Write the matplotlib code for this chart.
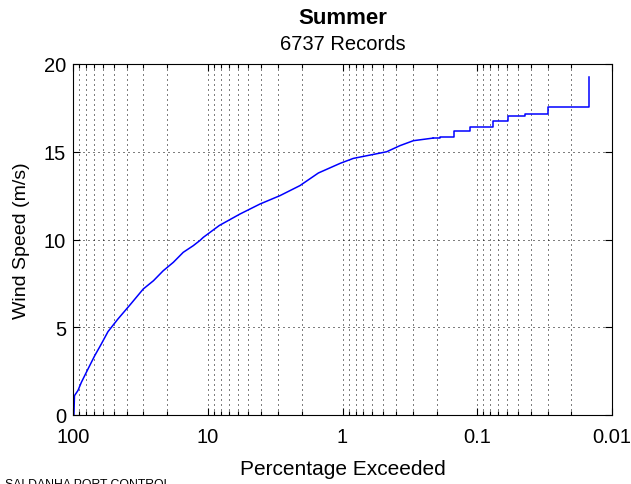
import matplotlib
matplotlib.use("Agg")
import matplotlib.pyplot as plt
from matplotlib.ticker import FixedLocator, FixedFormatter, NullFormatter, LogLocator

plt.rcParams['font.family'] = ['Liberation Sans', 'DejaVu Sans']

# Exceedance curve, main body (percentage exceeded, wind speed m/s)
pct_body = [98.5, 97.5, 91.8, 86.7, 77.4, 69.0, 61.6, 55.0, 46.4, 37.5, 30.1,
            25.3, 21.4, 18.0, 15.2, 12.8, 11.4, 10.8, 8.2, 5.77, 4.10, 2.91,
            2.07, 1.51, 1.04, 0.832, 0.625, 0.47, 0.374, 0.298, 0.212]
speed_body = [0.0, 1.1, 1.4, 1.86, 2.62, 3.38, 4.05, 4.75, 5.47, 6.3, 7.18,
              7.65, 8.22, 8.70, 9.27, 9.65, 9.95, 10.12, 10.8, 11.45, 12.02, 12.5,
              13.07, 13.79, 14.34, 14.62, 14.81, 15.0, 15.35, 15.63, 15.78]

# Upper tail: individual records, drawn as steps
pct_tail = [0.212, 0.188, 0.150, 0.113, 0.0759, 0.0594, 0.0445, 0.0297, 0.01484]
speed_tail = [15.78, 15.86, 16.2, 16.39, 16.77, 17.06, 17.15, 17.53, 19.27]

x_ticks = [100, 10, 1, 0.1, 0.01]
x_tick_labels = ["100", "10", "1", "0.1", "0.01"]
y_ticks = [0, 5, 10, 15, 20]

fig = plt.figure(figsize=(6.31, 4.85), dpi=100)
ax = fig.add_axes([73 / 631, 69 / 485, 539 / 631, 351 / 485])

ax.plot(pct_body, speed_body, color='#0000ff', lw=1.1)
ax.plot(pct_tail, speed_tail, color='#0000ff', lw=1.1, drawstyle='steps-post')

ax.set_xscale('log')
ax.set_xlim(100, 0.01)
ax.set_ylim(0, 20)

ax.xaxis.set_major_locator(FixedLocator(x_ticks))
ax.xaxis.set_major_formatter(FixedFormatter(x_tick_labels))
ax.xaxis.set_minor_locator(LogLocator(base=10, subs=range(2, 10), numticks=20))
ax.xaxis.set_minor_formatter(NullFormatter())
ax.yaxis.set_major_locator(FixedLocator(y_ticks))

dots = (0, (1, 4))
ax.grid(True, which='major', axis='both', color='black', lw=0.72, linestyle=dots)
ax.grid(True, which='minor', axis='x', color='black', lw=0.72, linestyle=dots)

ax.tick_params(which='both', direction='in', top=True, right=True, labelsize=14.5,
               color='black', width=0.8)
ax.tick_params(which='major', length=5)
ax.tick_params(which='minor', length=3)
ax.tick_params(axis='x', pad=9)
ax.tick_params(axis='y', pad=5)
for s in ax.spines.values():
    s.set_linewidth(0.8)
    s.set_color('black')

ax.set_xlabel('Percentage Exceeded', fontsize=15, labelpad=9)
ax.set_ylabel('Wind Speed (m/s)', fontsize=14, labelpad=10)

fig.text(342.5 / 631, 1 - 19 / 485, 'Summer', ha='center', va='center',
         fontsize=16, fontweight='bold')
fig.text(342.5 / 631, 1 - 45 / 485, '6737 Records', ha='center', va='center',
         fontsize=14.5)
fig.text(5 / 631, -3 / 485, 'SALDANHA PORT CONTROL', ha='left', va='baseline',
         fontsize=8.8)

fig.savefig('out.png', dpi=100)
